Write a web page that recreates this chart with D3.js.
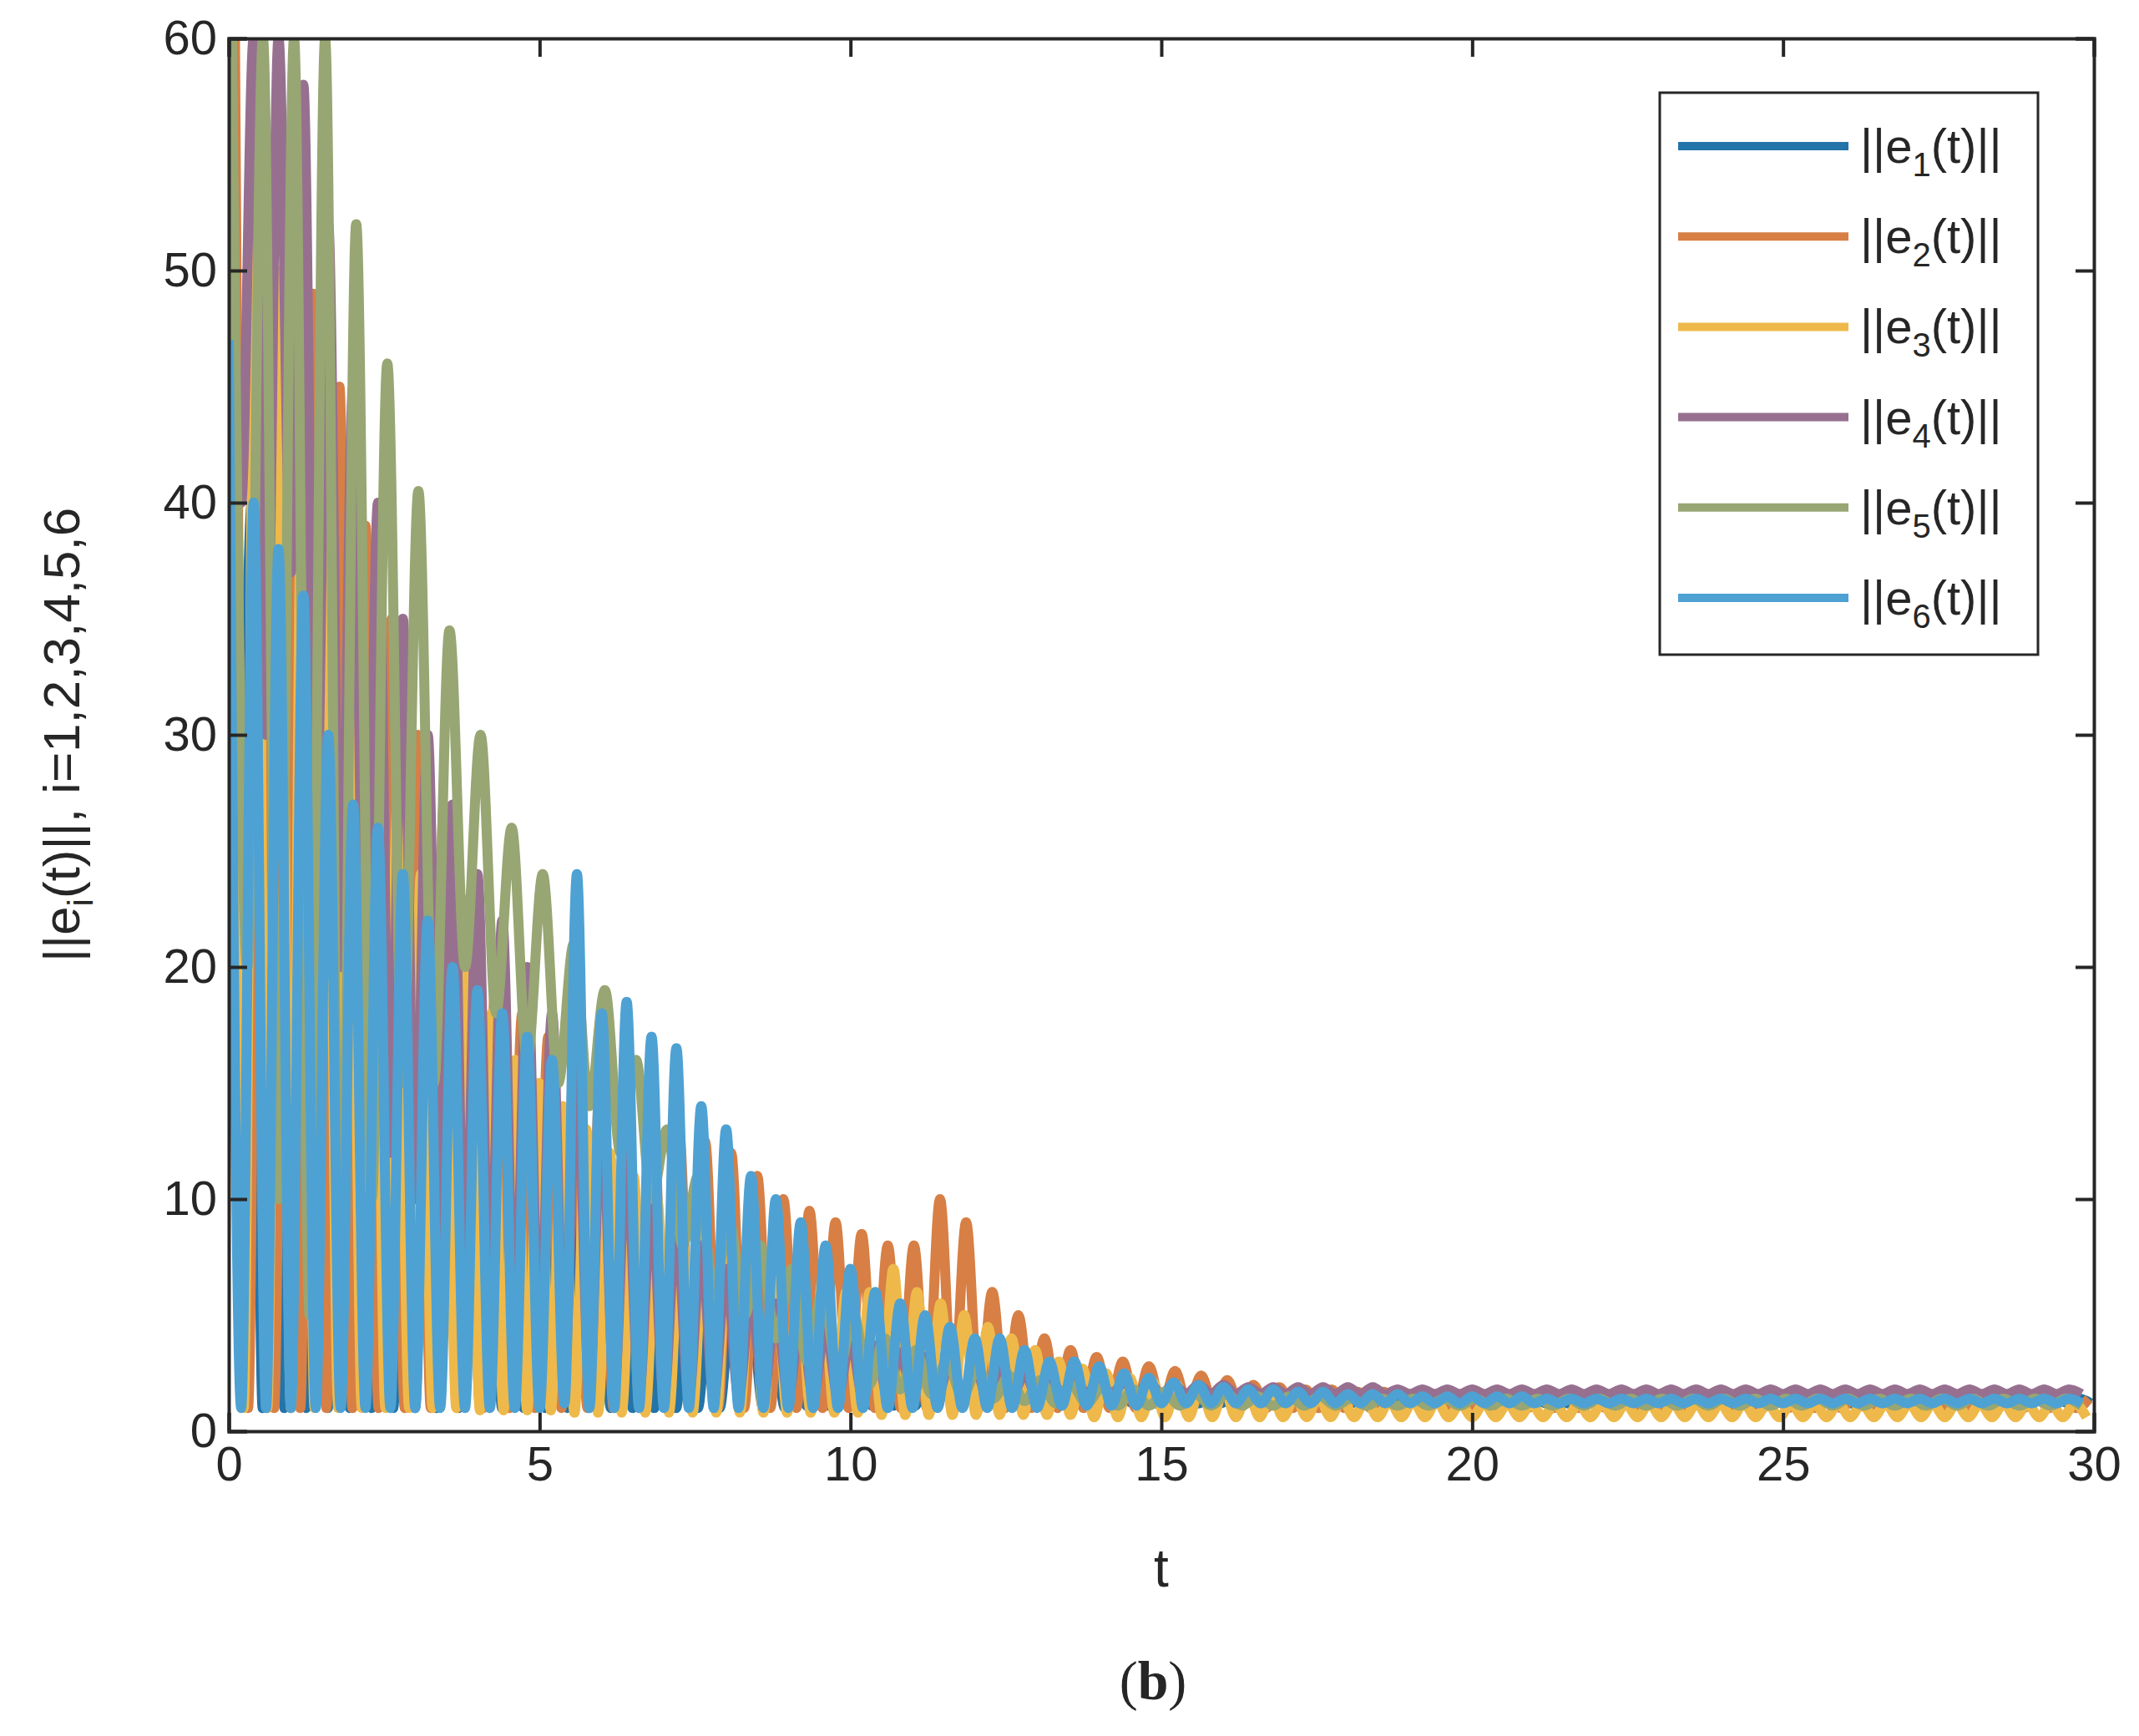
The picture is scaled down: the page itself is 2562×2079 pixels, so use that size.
<!DOCTYPE html>
<html>
<head>
<meta charset="utf-8">
<script src="https://cdn.jsdelivr.net/npm/d3@7"></script>
<style>
  body { margin: 0; background: #fff; }
  text { font-family: "Liberation Sans", Arial, sans-serif; fill: #262626; }
</style>
</head>
<body>
<svg id="chart" width="2562" height="2079"></svg>
<script>
// series names / colors
const names = ['1', '2', '3', '4', '5', '6']
const colors = ['#2374a8', '#d77f45', '#eeb94a', '#977090', '#97a673', '#4ea1d3']

// oscillation timing per series (start of first peak, period)
const startT = [0.02, 0.1, 0.05, 0.0, 0.05, 0.0]
const periods = [0.35, 0.42, 0.38, 0.4, 0.5, 0.4]

// peak values, one per oscillation
const peaks1 = [28,40,35,30,27,25,22,20,18,17,16,15,14,13,12,11,10,9,8,7,6.5,6,5.5,5,4.5,4,3.8,3.5,3.2,3,2.8,2.6,2.4,2.2,2,1.9,1.8,1.7,1.6,1.5,1.5,1.5,1.5,1.4,1.4,1.4,1.4,1.4,1.4,1.4,1.4,1.4,1.4,1.4,1.4,1.4,1.4,1.4,1.4,1.4,1.4,1.4,1.4,1.4,1.4,1.4,1.4,1.4,1.4,1.4,1.4,1.4,1.4,1.4,1.4,1.4,1.4,1.4,1.4,1.4,1.4,1.4,1.4,1.4,1.4,1.4]
const troughs1 = [26,1,1,1,1,1,1,1,1,1,1,1,1,1,1,1,1,1,1,1,1,1,1,1,1,1,1.1,1.1,1.1,1.1,1.1,1.1,1.2,1.2,1.2,1.2,1.2,1.2,1.2,1.2,1.2,1.2,1.2,1.2,1.2,1.2,1.2,1.2,1.2,1.2,1.2,1.2,1.2,1.2,1.2,1.2,1.2,1.2,1.2,1.2,1.2,1.2,1.2,1.2,1.2,1.2,1.2,1.2,1.2,1.2,1.2,1.2,1.2,1.2,1.2,1.2,1.2,1.2,1.2,1.2,1.2,1.2,1.2,1.2,1.2,1.2]

const peaks2 = [60,50,48,49,45,39,35,30,27,23,20,18,17,16,15.5,15,14,13,12.5,12,11,10,9.5,9,8.5,8,8,10,9,6,5,4,3.5,3.2,3,2.8,2.6,2.4,2.2,2,1.9,1.8,1.8,1.7,1.7,1.6,1.6,1.6,1.5,1.5,1.5,1.5,1.5,1.4,1.4,1.4,1.4,1.4,1.4,1.4,1.4,1.4,1.4,1.4,1.4,1.4,1.4,1.4,1.4,1.4,1.4,1.4]
const troughs2 = [1,1,1,1,1,1,1,1,1,1,1,1,1,1,1,1,1,1,1,1,1,1,1,1,1,1,1,1,1,1,1,1,1,1,1,1,1,1,1,1,1,1,1,1,1,1,1,1,1,1,1,1,1,1,1,1,1,1,1,1,1,1,1,1,1,1,1,1,1,1,1,1]

const peaks3 = [60,55,50,45,40,35,31,27,24,22,20,18,16,15,14,13,12,11,10,9.5,9,8.5,8,7.5,7,6.5,6,6,7,6,5.5,5,4.5,4,3.5,3,2.7,2.5,2.3,2.1,2,1.9,1.8,1.7,1.6,1.5,1.5,1.4,1.4,1.3,1.3,1.3,1.2,1.2,1.2,1.2,1.2,1.2,1.2,1.2,1.2,1.2,1.2,1.2,1.2,1.2,1.2,1.2,1.2,1.2,1.2,1.2,1.2,1.2,1.2,1.2,1.2,1.2,1.2]
const troughs3 = [1,1,1,1,1,1,1,1,1,1,0.9,0.9,0.9,0.9,0.8,0.8,0.8,0.8,0.8,0.8,0.8,0.8,0.8,0.8,0.8,0.8,0.8,0.7,0.7,0.7,0.7,0.7,0.7,0.7,0.7,0.7,0.6,0.6,0.6,0.6,0.6,0.6,0.6,0.6,0.6,0.6,0.6,0.6,0.6,0.6,0.6,0.6,0.6,0.6,0.6,0.6,0.6,0.6,0.6,0.6,0.6,0.6,0.6,0.6,0.6,0.6,0.6,0.6,0.6,0.6,0.6,0.6,0.6,0.6,0.6,0.6,0.6,0.6,0.6]

const peaks4 = [60,60,60,58,52,45,40,35,30,27,24,22,20,18,16,14,12,10,9,8,7,6,5.5,5,4.5,4,3.7,3.4,3.2,3,2.8,2.6,2.5,2.4,2.3,2.2,2.1,2.1,2,2,2,1.9,1.9,1.9,1.9,1.9,1.9,1.8,1.8,1.8,1.8,1.8,1.8,1.8,1.8,1.8,1.8,1.8,1.8,1.8,1.8,1.8,1.8,1.8,1.8,1.8,1.8,1.8,1.8,1.8,1.8,1.8,1.8,1.8,1.8]
const troughs4 = [40,30,37,25,20,15,12,10,8,6,5,4,3,2.5,2,1.8,1.6,1.5,1.5,1.5,1.5,1.5,1.5,1.5,1.5,1.5,1.5,1.5,1.5,1.5,1.5,1.5,1.5,1.6,1.6,1.6,1.6,1.6,1.6,1.6,1.6,1.6,1.6,1.6,1.6,1.6,1.6,1.6,1.6,1.6,1.6,1.6,1.6,1.6,1.6,1.6,1.6,1.6,1.6,1.6,1.6,1.6,1.6,1.6,1.6,1.6,1.6,1.6,1.6,1.6,1.6,1.6,1.6,1.6,1.6]

const peaks5 = [60,60,60,60,52,46,40.5,34.5,30,26,24,21,19,16,13,11,9,8,7,6,5,4,3.5,3,2.7,2.4,2.2,2,1.9,1.8,1.7,1.6,1.6,1.5,1.5,1.5,1.4,1.4,1.4,1.4,1.4,1.4,1.4,1.4,1.4,1.4,1.4,1.4,1.4,1.4,1.4,1.4,1.4,1.4,1.4,1.4,1.4,1.4,1.4,1.4]
const troughs5 = [20,10,5,3,10,15,15,20,18,16,15,14,12,10,8,6,5,4,3,2.5,2,1.8,1.6,1.5,1.4,1.3,1.2,1.2,1.1,1.1,1.1,1.1,1.1,1.1,1.1,1.1,1.1,1.1,1.1,1.1,1.1,1.1,1.1,1.1,1.1,1.1,1.1,1.1,1.1,1.1,1.1,1.1,1.1,1.1,1.1,1.1,1.1,1.1,1.1,1.1]

const peaks6 = [47,40,38,36,30,27,26,24,22,20,19,18,17,16,24,18,18.5,17,16.5,14,13,11,10,9,8,7,6,5.5,5,4.5,4,4,3.5,3,3,2.8,2.5,2.3,2.1,2,1.9,1.8,1.8,1.7,1.7,1.6,1.6,1.6,1.5,1.5,1.5,1.5,1.5,1.4,1.4,1.4,1.4,1.4,1.4,1.4,1.4,1.4,1.4,1.4,1.4,1.4,1.4,1.4,1.4,1.4,1.4,1.4,1.4,1.4,1.4]
const troughs6 = [1,1,1,1,1,1,1,1,1,1,1,1,1,1.2,1,1,1,1,1,1,1,1,1,1,1,1,1,1,1,1,1,1,1,1.1,1.1,1.1,1.1,1.2,1.2,1.2,1.2,1.2,1.2,1.2,1.2,1.2,1.2,1.2,1.2,1.2,1.2,1.2,1.2,1.2,1.2,1.2,1.2,1.2,1.2,1.2,1.2,1.2,1.2,1.2,1.2,1.2,1.2,1.2,1.2,1.2,1.2,1.2,1.2,1.2,1.2]

const peakSets = [peaks1, peaks2, peaks3, peaks4, peaks5, peaks6]
const troughSets = [troughs1, troughs2, troughs3, troughs4, troughs5, troughs6]

const xTicks = [0, 5, 10, 15, 20, 25, 30]
const yTicks = [0, 10, 20, 30, 40, 50, 60]

const margin = { left: 274, right: 2508, top: 46, bottom: 1714 }

let svg = d3.select('#chart')

let x = d3.scaleLinear().domain([0, 30]).range([margin.left, margin.right])
let y = d3.scaleLinear().domain([0, 60]).range([margin.bottom, margin.top])

// build alternating peak/trough points for one series
function seriesPoints(i) {
  let pts = []
  let p = periods[i]
  let n = Math.min(peakSets[i].length, troughSets[i].length)
  for (let k = 0; k < n; k++) {
    let t = startT[i] + k * p
    if (t > 30) break
    pts.push([t, peakSets[i][k]])
    if (t + p / 2 <= 30) pts.push([t + p / 2, troughSets[i][k]])
  }
  return pts
}

svg.append('clipPath').attr('id', 'clip')
  .append('rect')
  .attr('x', margin.left).attr('y', margin.top)
  .attr('width', margin.right - margin.left)
  .attr('height', margin.bottom - margin.top)

let line = d3.line()
  .x(d => x(d[0]))
  .y(d => y(d[1]))
  .curve(d3.curveMonotoneX)

let lines = svg.append('g').attr('clip-path', 'url(#clip)')
names.forEach((n, i) => {
  lines.append('path')
    .attr('d', line(seriesPoints(i)))
    .attr('fill', 'none')
    .attr('stroke', colors[i])
    .attr('stroke-width', 12)
    .attr('stroke-linejoin', 'round')
})

// axes (ticks inward, box on all sides)
let tickLen = 22
let fs = 58
let axisColor = '#262626'

svg.append('g').attr('transform', `translate(0,${margin.bottom})`)
  .call(d3.axisBottom(x).tickValues(xTicks).tickSize(-tickLen).tickPadding(18))
svg.append('g').attr('transform', `translate(0,${margin.top})`)
  .call(d3.axisTop(x).tickValues(xTicks).tickSize(-tickLen).tickFormat(''))
svg.append('g').attr('transform', `translate(${margin.left},0)`)
  .call(d3.axisLeft(y).tickValues(yTicks).tickSize(-tickLen).tickPadding(14))
svg.append('g').attr('transform', `translate(${margin.right},0)`)
  .call(d3.axisRight(y).tickValues(yTicks).tickSize(-tickLen).tickFormat(''))

svg.selectAll('.domain, .tick line')
  .attr('stroke', axisColor).attr('stroke-width', 4)
svg.selectAll('.tick text')
  .attr('font-size', fs)
  .style('font-family', '"Liberation Sans", Arial, sans-serif')
  .attr('fill', axisColor)

// axis labels
svg.append('text')
  .attr('x', (margin.left + margin.right) / 2).attr('y', 1900)
  .attr('text-anchor', 'middle').attr('font-size', 64)
  .text('t')

let yl = svg.append('text')
  .attr('transform', `translate(95,${(margin.top + margin.bottom) / 2}) rotate(-90)`)
  .attr('text-anchor', 'middle').attr('font-size', 62)
yl.append('tspan').text('||e')
yl.append('tspan').attr('font-size', 42).attr('dy', 16).text('i')
yl.append('tspan').attr('dy', -16).text('(t)||, i=1,2,3,4,5,6')

svg.append('text')
  .attr('x', (margin.left + margin.right) / 2 - 10).attr('y', 2035)
  .attr('text-anchor', 'middle').attr('font-size', 66)
  .style('font-family', '"Liberation Serif", "DejaVu Serif", serif')
  .html('(<tspan font-weight="bold">b</tspan>)')

// legend
let legend = svg.append('g')
legend.append('rect')
  .attr('x', 1988).attr('y', 111).attr('width', 453).attr('height', 673)
  .attr('fill', '#fff').attr('stroke', axisColor).attr('stroke-width', 3)

let legendY = d3.scalePoint().domain(names).range([175, 716])
names.forEach((n, i) => {
  let ly = legendY(n)
  legend.append('line')
    .attr('x1', 2010).attr('x2', 2214).attr('y1', ly).attr('y2', ly)
    .attr('stroke', colors[i]).attr('stroke-width', 10)
  let t = legend.append('text')
    .attr('x', 2228).attr('y', ly + 20).attr('font-size', 58)
  t.append('tspan').text('||e')
  t.append('tspan').attr('font-size', 40).attr('dy', 16).text(n)
  t.append('tspan').attr('dy', -16).text('(t)||')
})
</script>
</body>
</html>
